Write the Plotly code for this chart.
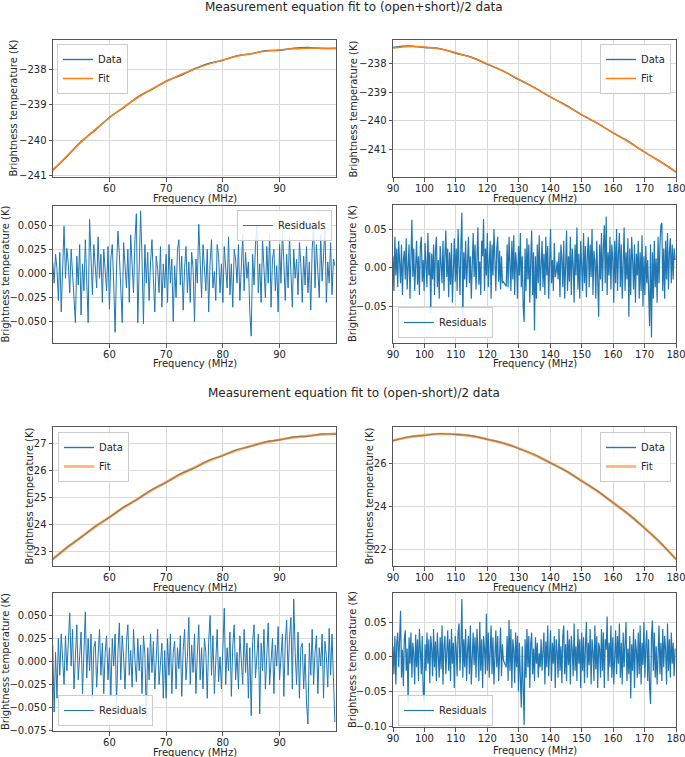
import numpy as np
import plotly.graph_objects as go

W, H = 685, 757

# ---------------- data ----------------
freq_low = [50.0, 52.5, 55.0, 57.5, 60.0, 62.5, 65.0, 67.5, 70.0, 72.5, 75.0,
            77.5, 80.0, 82.5, 85.0, 87.5, 90.0, 92.5, 95.0, 97.5, 100.0]
freq_high = [90, 95, 100, 105, 110, 115, 120, 125, 130, 135, 140, 145, 150,
             155, 160, 165, 170, 175, 180]

# (open+short)/2
sum_fit_low = [-240.86, -240.45, -240.06, -239.70, -239.37, -239.07, -238.80, -238.56,
               -238.35, -238.16, -238.00, -237.86, -237.74, -237.64, -237.56, -237.50,
               -237.46, -237.43, -237.41, -237.41, -237.42]
sum_data_low = [-240.84, -240.46, -240.04, -239.72, -239.36, -239.09, -238.78, -238.57,
                -238.34, -238.18, -237.99, -237.84, -237.75, -237.62, -237.57, -237.48,
                -237.47, -237.41, -237.39, -237.42, -237.41]
sum_fit_high = [-237.47, -237.42, -237.43, -237.50, -237.63, -237.80, -238.02, -238.27,
                -238.55, -238.85, -239.16, -239.47, -239.78, -240.09, -240.41, -240.74,
                -241.08, -241.42, -241.77]
sum_data_high = [-237.45, -237.40, -237.45, -237.49, -237.65, -237.79, -238.04, -238.26,
                 -238.57, -238.84, -239.17, -239.45, -239.79, -240.08, -240.42, -240.72,
                 -241.09, -241.41, -241.78]

# (open-short)/2
diff_fit_low = [22.73, 23.14, 23.54, 23.92, 24.28, 24.63, 24.96, 25.28, 25.58, 25.86, 26.12,
                26.36, 26.57, 26.76, 26.92, 27.05, 27.15, 27.23, 27.29, 27.34, 27.37]
diff_data_low = [22.71, 23.16, 23.53, 23.94, 24.27, 24.65, 24.95, 25.30, 25.57, 25.88, 26.11,
                 26.38, 26.56, 26.78, 26.91, 27.07, 27.14, 27.25, 27.28, 27.36, 27.36]
diff_fit_high = [27.10, 27.25, 27.35, 27.40, 27.39, 27.30, 27.16, 26.97, 26.73, 26.42, 26.06,
                 25.66, 25.21, 24.72, 24.19, 23.62, 23.00, 22.30, 21.54]
diff_data_high = [27.08, 27.27, 27.34, 27.42, 27.38, 27.32, 27.15, 26.99, 26.72, 26.44, 26.05,
                  25.68, 25.20, 24.74, 24.18, 23.64, 22.99, 22.32, 21.53]

# residual channel grids (MHz)
res_freq_low = 50.0 + 0.25 * np.arange(200)
res_freq_high = 90.0 + 0.3 * np.arange(300)

sum_res_low = [
    0.012, -0.010, 0.020, 0.005, -0.028, 0.022, -0.040, 0.015, 0.049, -0.005, 0.026, 0.010, -0.020, 0.025, 0.003, -0.030, -0.051, 0.018, -0.012, 0.030,
    -0.043, 0.010, -0.018, 0.035, -0.010, -0.051, 0.056, 0.008, -0.022, 0.030, 0.012, -0.015, 0.038, -0.005, 0.020, -0.030, 0.025, 0.002, -0.018, 0.028,
    -0.037, 0.015, 0.030, -0.010, -0.061, 0.005, 0.044, 0.020, -0.025, -0.051, 0.032, 0.008, -0.015, 0.025, -0.030, 0.040, 0.010, -0.020, 0.035, 0.062,
    -0.051, 0.020, 0.065, 0.015, -0.052, 0.030, -0.010, 0.022, -0.028, 0.012, 0.035, -0.005, -0.040, 0.018, 0.005, -0.020, 0.028, -0.035, 0.010, -0.015,
    0.020, -0.030, 0.030, -0.010, 0.015, -0.050, 0.008, -0.025, 0.025, 0.035, -0.012, 0.018, -0.038, 0.005, 0.028, -0.020, 0.012, -0.030, 0.022, 0.005,
    -0.050, 0.015, -0.010, 0.051, 0.020, -0.025, 0.030, 0.008, -0.018, 0.025, -0.040, 0.012, 0.035, -0.015, 0.002, -0.028, 0.030, 0.018, -0.020, 0.010,
    -0.030, 0.028, 0.005, -0.015, 0.038, -0.022, 0.010, -0.035, 0.025, 0.015, -0.010, 0.030, -0.028, 0.008, 0.040, -0.018, 0.022, -0.005, 0.012, -0.040,
    -0.065, 0.020, -0.012, 0.030, 0.050, -0.020, 0.010, -0.030, 0.035, 0.005, -0.025, 0.028, -0.010, 0.042, -0.035, 0.015, 0.025, -0.018, 0.008, -0.040,
    0.030, -0.010, 0.045, 0.012, -0.028, 0.020, -0.015, 0.038, 0.002, -0.035, 0.025, -0.005, 0.015, -0.022, 0.032, 0.010, -0.030, 0.018, -0.012, 0.028,
    -0.020, 0.012, -0.038, 0.025, 0.053, -0.015, 0.030, 0.005, -0.025, 0.040, -0.008, 0.018, 0.048, -0.030, 0.012, -0.010, 0.032, -0.022, 0.015, 0.008,
]

sum_res_high = [
    0.015, -0.030, 0.040, -0.010, 0.025, -0.025, 0.035, 0.005, -0.020, 0.030, -0.035, 0.010, 0.022, -0.015, 0.038, -0.028, 0.012, 0.030, -0.040, 0.018,
    0.062, -0.012, 0.025, -0.030, 0.008, 0.035, -0.022, 0.015, -0.035, 0.028, 0.040, -0.018, 0.010, -0.030, 0.032, 0.002, -0.025, 0.045, -0.010, 0.020,
    -0.058, 0.018, -0.015, 0.030, -0.035, 0.022, 0.040, -0.025, 0.010, -0.040, 0.028, 0.005, -0.020, 0.035, -0.030, 0.015, 0.048, -0.012, 0.025, -0.038,
    0.020, -0.022, 0.032, -0.045, 0.012, 0.038, -0.018, 0.025, -0.030, 0.050, 0.005, -0.035, 0.030, 0.071, -0.070, 0.020, -0.015, 0.035, -0.025, 0.010,
    0.040, -0.020, 0.015, -0.040, 0.028, 0.045, -0.012, 0.030, -0.028, 0.018, 0.052, -0.022, 0.008, -0.035, 0.035, 0.015, 0.063, -0.030, 0.025, -0.010,
    0.045, -0.025, 0.020, 0.035, -0.040, 0.030, -0.010, 0.050, 0.012, -0.030, 0.025, 0.040, -0.018, 0.022, -0.028, 0.015, -0.020, -0.018, -0.020, -0.022,
    -0.024, 0.030, -0.025, 0.040, 0.010, -0.030, 0.035, -0.015, 0.042, -0.035, 0.020, 0.005, -0.040, 0.028, -0.010, 0.045, -0.025, 0.015, -0.050, -0.070,
    0.025, -0.030, 0.038, -0.015, 0.030, -0.045, 0.010, 0.048, -0.035, 0.020, -0.081, 0.015, -0.040, 0.030, -0.020, 0.042, -0.030, 0.012, 0.035, -0.025,
    0.018, -0.035, 0.040, -0.010, 0.028, -0.040, 0.022, 0.050, -0.020, 0.010, -0.030, 0.032, -0.012, -0.005, 0.008, -0.015, 0.020, -0.038, 0.030, 0.012,
    -0.025, 0.035, -0.040, 0.020, 0.048, -0.030, 0.015, -0.018, 0.040, -0.035, 0.025, 0.005, -0.045, 0.030, -0.010, 0.052, -0.028, 0.018, -0.040, 0.035,
    0.010, -0.030, 0.045, -0.020, 0.028, -0.038, 0.015, 0.040, -0.025, 0.030, -0.012, 0.050, -0.035, 0.022, 0.008, -0.040, 0.035, -0.018, -0.063, 0.030,
    -0.015, 0.045, -0.030, 0.025, 0.055, -0.020, 0.066, -0.035, 0.020, -0.010, 0.040, -0.028, 0.030, 0.012, -0.045, 0.035, -0.020, 0.050, -0.030, 0.018,
    0.045, -0.025, 0.030, -0.040, 0.015, 0.052, -0.030, 0.020, -0.015, 0.038, -0.063, 0.025, -0.035, 0.040, 0.010, -0.028, 0.030, -0.045, 0.018, -0.010,
    0.035, -0.040, 0.020, -0.030, 0.042, -0.050, 0.015, -0.035, 0.028, -0.020, 0.010, -0.045, -0.075, 0.030, -0.090, 0.020, -0.040, 0.035, -0.025, 0.012,
    -0.045, 0.040, -0.020, 0.030, 0.055, 0.058, -0.030, 0.025, -0.040, 0.035, -0.015, 0.045, -0.028, 0.020, 0.038, -0.020, 0.030, -0.015, 0.025, 0.010,
]

diff_res_low = [
    0.018, -0.055, 0.010, -0.040, 0.025, -0.015, 0.030, 0.005, -0.025, 0.028, -0.010, 0.020, 0.053, -0.005, 0.035, -0.030, 0.015, 0.040, -0.020, 0.008,
    0.032, -0.035, 0.012, 0.054, -0.018, 0.025, -0.010, 0.030, -0.040, 0.015, 0.022, -0.028, 0.005, 0.035, -0.015, 0.020, -0.035, 0.010, 0.028, -0.020,
    0.015, -0.038, 0.025, -0.005, 0.030, -0.046, 0.010, 0.042, -0.020, 0.028, 0.005, -0.030, 0.022, 0.040, -0.015, 0.012, -0.028, 0.035, 0.002, -0.022,
    0.025, -0.010, 0.018, -0.035, 0.028, 0.008, -0.061, 0.015, -0.020, 0.030, -0.012, 0.022, -0.030, 0.010, 0.035, -0.025, 0.005, 0.020, -0.040, 0.012,
    -0.040, 0.025, -0.015, 0.030, -0.035, 0.010, 0.022, -0.030, 0.015, -0.008, 0.028, -0.038, 0.012, 0.035, -0.020, 0.005, 0.048, -0.025, 0.018, -0.012,
    0.030, -0.035, 0.008, 0.040, -0.020, 0.015, -0.030, 0.025, 0.010, -0.040, 0.022, 0.050, -0.015, 0.028, -0.035, 0.012, 0.035, -0.022, 0.005, -0.030,
    0.020, 0.058, -0.025, 0.015, -0.010, 0.032, -0.038, 0.018, 0.040, -0.020, 0.010, -0.030, 0.028, 0.005, -0.025, 0.035, -0.012, 0.020, -0.040, 0.015,
    -0.059, 0.022, 0.040, -0.018, 0.012, 0.030, -0.057, 0.020, -0.010, 0.035, -0.030, 0.015, 0.042, -0.025, 0.008, 0.025, -0.035, 0.018, -0.005, 0.038,
    -0.020, 0.012, 0.030, -0.038, 0.020, 0.045, -0.015, 0.025, 0.048, -0.030, 0.068, 0.010, -0.025, 0.032, -0.040, 0.015, 0.020, -0.030, 0.008, -0.045,
    -0.068, 0.020, -0.015, 0.035, -0.025, 0.010, 0.028, -0.035, 0.015, -0.005, 0.030, -0.040, 0.022, 0.005, -0.028, 0.036, -0.015, 0.030, -0.020, -0.066,
]

diff_res_high = [
    0.015, -0.025, 0.030, -0.040, 0.020, 0.035, -0.015, 0.045, 0.066, -0.030, 0.010, -0.042, 0.025, 0.038, -0.020, 0.012, -0.066, 0.028, -0.010, 0.035,
    -0.030, 0.020, 0.005, -0.040, 0.032, -0.015, 0.025, -0.035, 0.040, 0.010, -0.025, 0.030, -0.050, -0.065, 0.018, -0.020, 0.035, -0.010, 0.025, -0.038,
    0.030, 0.012, -0.028, 0.040, -0.015, 0.022, -0.035, 0.035, 0.005, -0.030, 0.028, -0.018, 0.045, -0.040, 0.015, 0.030, -0.025, 0.010, 0.038, -0.020,
    0.025, -0.035, 0.040, -0.010, 0.020, -0.045, 0.030, 0.012, -0.028, 0.035, 0.048, -0.020, 0.015, 0.083, -0.030, 0.025, -0.015, 0.040, -0.035, 0.010,
    0.030, -0.025, 0.045, -0.040, 0.018, 0.035, -0.012, 0.028, -0.030, 0.040, 0.008, -0.035, 0.050, -0.020, 0.025, -0.045, 0.030, 0.012, -0.025, 0.062,
    -0.020, 0.035, -0.030, 0.015, 0.045, -0.025, 0.028, -0.040, 0.020, 0.038, -0.015, 0.030, -0.035, 0.010, 0.042, -0.028, 0.018, -0.005, -0.008, -0.012,
    -0.015, 0.030, -0.035, 0.053, -0.020, 0.040, -0.045, 0.025, 0.010, -0.038, 0.035, -0.015, 0.030, -0.050, 0.020, -0.030, -0.073, 0.015, -0.040, -0.098,
    0.025, -0.030, 0.040, -0.015, 0.030, -0.045, 0.018, 0.035, -0.025, 0.012, -0.035, 0.028, -0.010, 0.020, -0.030, 0.005, -0.015, 0.025, -0.020, 0.010,
    0.035, -0.040, 0.022, -0.015, 0.045, -0.028, 0.015, 0.038, -0.035, 0.020, -0.010, 0.030, -0.045, 0.025, 0.008, -0.030, 0.040, -0.020, 0.015, -0.038,
    0.030, 0.045, -0.025, 0.018, -0.035, 0.038, -0.012, 0.025, -0.040, 0.030, 0.010, -0.028, 0.048, -0.020, 0.015, -0.035, 0.040, -0.010, 0.025, -0.045,
    0.035, -0.020, 0.028, -0.038, 0.015, 0.050, -0.030, 0.020, -0.012, 0.040, -0.040, 0.025, 0.008, -0.035, 0.045, -0.018, 0.030, -0.045, 0.020, 0.012,
    -0.030, 0.040, -0.020, 0.035, -0.045, 0.025, 0.010, 0.058, -0.035, 0.020, -0.015, 0.045, -0.030, 0.028, -0.040, 0.015, 0.038, -0.025, 0.030, -0.010,
    0.048, -0.030, 0.020, -0.040, 0.035, -0.015, 0.025, 0.050, -0.035, 0.012, -0.025, 0.030, -0.060, 0.018, -0.020, 0.040, -0.045, 0.025, 0.010, -0.030,
    0.035, -0.025, 0.045, -0.040, 0.020, -0.012, 0.050, -0.030, 0.015, 0.038, -0.035, 0.025, -0.045, -0.068, 0.030, 0.052, -0.020, 0.035, -0.030, 0.015,
    -0.040, 0.028, 0.045, -0.025, 0.020, -0.035, 0.040, -0.015, 0.030, 0.010, -0.040, 0.048, -0.020, 0.025, -0.030, 0.035, -0.010, 0.020, -0.028, 0.012,
]

titles = ["Measurement equation fit to (open+short)/2 data",
          "Measurement equation fit to (open-short)/2 data"]
xlabel = "Frequency (MHz)"
ylabel = "Brightness temperature (K)"

# ---------------- styling ----------------
BLUE = "#1f77b4"
ORANGE = "#ff7f0e"
FONT = "DejaVu Sans"
TXT = "#262626"

fig = go.Figure()


def px_x(px):
    return px / W


def px_y(py):
    return 1 - py / H


# panel specs: pixel box (left, right, top, bottom), ranges, ticks, legend anchor
panels = [
    dict(box=(53, 336, 40, 177), xr=[50.05, 99.95], yr=[-241.04, -237.18], xt=[60, 70, 80, 90], dy=1, fmt="d",
         leg=(57, 44, "left", "top"), ytx=13),
    dict(box=(393, 676, 40, 177), xr=[90, 180], yr=[-241.95, -237.19], xt=list(range(90, 181, 10)), dy=1, fmt="d",
         leg=(671, 44, "right", "top"), ytx=353),
    dict(box=(53, 336, 206, 343), xr=[50.05, 99.95], yr=[-0.0721, 0.070], xt=[60, 70, 80, 90], dy=0.025, fmt=".3f",
         leg=(332, 210, "right", "top"), ytx=5),
    dict(box=(393, 676, 205, 343), xr=[90, 180], yr=[-0.097, 0.081], xt=list(range(90, 181, 10)), dy=0.05, fmt=".2f",
         leg=(398, 338, "left", "bottom"), ytx=352),
    dict(box=(53, 336, 427, 566), xr=[50.05, 99.95], yr=[22.47, 27.62], xt=[60, 70, 80, 90], dy=1, fmt="d",
         leg=(58, 432, "left", "top"), ytx=29),
    dict(box=(393, 676, 427, 566), xr=[90, 180], yr=[21.22, 27.73], xt=list(range(90, 181, 10)), dy=2, fmt="d",
         leg=(671, 432, "right", "top"), ytx=369),
    dict(box=(53, 336, 593, 731), xr=[50.05, 99.95], yr=[-0.0757, 0.0746], xt=[60, 70, 80, 90], dy=0.025, fmt=".3f",
         leg=(58, 726, "left", "bottom"), ytx=5),
    dict(box=(393, 676, 593, 727), xr=[90, 180], yr=[-0.101, 0.0917], xt=list(range(90, 181, 10)), dy=0.05, fmt=".2f",
         leg=(398, 726, "left", "bottom"), ytx=352),
]

series = [
    [("Data", freq_low, sum_data_low, BLUE, 1.4, "spline"), ("Fit", freq_low, sum_fit_low, ORANGE, 1.5, "spline")],
    [("Data", freq_high, sum_data_high, BLUE, 1.4, "spline"), ("Fit", freq_high, sum_fit_high, ORANGE, 1.5, "spline")],
    [("Residuals", res_freq_low, sum_res_low, BLUE, 1.0, "linear")],
    [("Residuals", res_freq_high, sum_res_high, BLUE, 1.2, "linear")],
    [("Data", freq_low, diff_data_low, BLUE, 1.4, "spline"),
     ("Fit", freq_low, diff_fit_low, "rgba(255,127,14,0.6)", 2.6, "spline")],
    [("Data", freq_high, diff_data_high, BLUE, 1.4, "spline"),
     ("Fit", freq_high, diff_fit_high, "rgba(255,127,14,0.6)", 2.6, "spline")],
    [("Residuals", res_freq_low, diff_res_low, BLUE, 1.0, "linear")],
    [("Residuals", res_freq_high, diff_res_high, BLUE, 1.2, "linear")],
]

layout = dict(
    width=W, height=H, margin=dict(l=0, r=0, t=0, b=0, autoexpand=False),
    paper_bgcolor="white", plot_bgcolor="white",
    font=dict(family=FONT, size=10, color=TXT),
    hovermode=False,
)
annotations = []

for i, (p, ss) in enumerate(zip(panels, series)):
    n = i + 1
    sfx = "" if n == 1 else str(n)
    l, r, t, b = p["box"]
    axstyle = dict(showgrid=True, gridcolor="#d8d8d8", gridwidth=1, zeroline=False,
                   showline=True, linecolor="#555555", linewidth=1, mirror=True,
                   ticks="outside", ticklen=3.5, tickcolor="#555555", automargin=False,
                   ticklabeloverflow="allow",
                   tickfont=dict(family=FONT, size=10, color=TXT))
    layout["xaxis" + sfx] = dict(domain=[px_x(l), px_x(r)], range=p["xr"], tickvals=p["xt"],
                                 anchor="y" + sfx, ticklabelstandoff=-2, **axstyle)
    layout["yaxis" + sfx] = dict(domain=[px_y(b), px_y(t)], range=p["yr"], dtick=p["dy"], tick0=0,
                                 tickformat=p["fmt"], anchor="x" + sfx, **axstyle)
    legname = "legend" + sfx
    lx, ly, xa, ya = p["leg"]
    layout[legname] = dict(x=px_x(lx), y=px_y(ly), xanchor=xa, yanchor=ya,
                           bgcolor="rgba(255,255,255,0.85)", bordercolor="#cccccc", borderwidth=1,
                           font=dict(family=FONT, size=10, color=TXT), tracegroupgap=0)
    for name, xs, ys, col, wd, shape in ss:
        fig.add_trace(go.Scatter(x=xs, y=ys, mode="lines", name=name,
                                 line=dict(color=col, width=wd, shape=shape),
                                 xaxis="x" + sfx, yaxis="y" + sfx, legend=legname,
                                 showlegend=True))
    # axis titles
    annotations.append(dict(text=ylabel, x=px_x(p["ytx"]), y=px_y((t + b) / 2), xref="paper", yref="paper",
                            textangle=-90, showarrow=False, xanchor="center", yanchor="middle",
                            font=dict(family=FONT, size=10, color=TXT)))

xtitle_y = [199, 199, 364, 364, 587, 587, 752, 750]
for i, p in enumerate(panels):
    l, r, t, b = p["box"]
    annotations.append(dict(text=xlabel, x=px_x((l + r) / 2), y=px_y(xtitle_y[i]), xref="paper", yref="paper",
                            showarrow=False, xanchor="center", yanchor="middle",
                            font=dict(family=FONT, size=10, color=TXT)))

annotations.append(dict(text=titles[0], x=px_x(354), y=px_y(7), xref="paper", yref="paper", showarrow=False,
                        xanchor="center", yanchor="middle", font=dict(family=FONT, size=12, color=TXT)))
annotations.append(dict(text=titles[1], x=px_x(354), y=px_y(393), xref="paper", yref="paper", showarrow=False,
                        xanchor="center", yanchor="middle", font=dict(family=FONT, size=12, color=TXT)))

layout["annotations"] = annotations
fig.update_layout(**layout)
fig.write_html("out.html", config={"displayModeBar": False},
               post_script="document.body.style.margin='0';")
